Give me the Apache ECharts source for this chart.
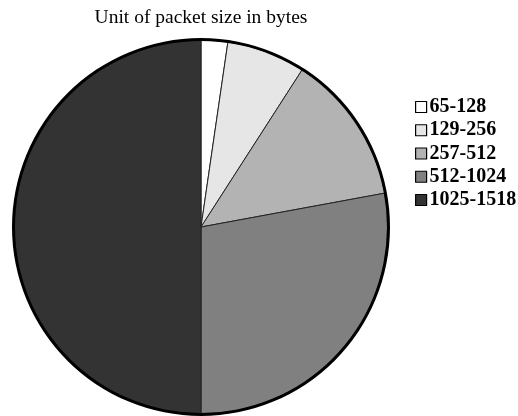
<!DOCTYPE html>
<html><head><meta charset="utf-8">
<script src="https://cdn.jsdelivr.net/npm/echarts@6/dist/echarts.min.js"></script>
<style>html,body{margin:0;padding:0;background:#fff}#c{width:518px;height:416px}</style>
</head><body><div id="c"></div>
<script>
var categories = ['65-128', '129-256', '257-512', '512-1024', '1025-1518'];
var values = [2.3, 6.8, 13.0, 27.9, 50.0];
var colors = ['#ffffff', '#e6e6e6', '#b3b3b3', '#808080', '#333333'];
var titleText = 'Unit of packet size in bytes';

var chart = echarts.init(document.getElementById('c'), null, {renderer: 'canvas'});
var data = categories.map(function (c, i) {
  return {name: c, value: values[i], itemStyle: {color: colors[i]}};
});
chart.setOption({
  animation: false,
  title: {
    text: titleText, left: 196, top: 3, textAlign: 'center',
    textStyle: {fontFamily: 'Liberation Serif', fontSize: 19.5, fontWeight: 'normal', color: '#000'}
  },
  legend: {
    orient: 'vertical', left: 415, top: 97, itemGap: 3.25, padding: 0,
    itemWidth: 11, itemHeight: 11, icon: 'rect',
    data: categories,
    itemStyle: {borderColor: '#000', borderWidth: 1.2},
    textStyle: {fontFamily: 'Liberation Serif', fontSize: 20, lineHeight: 20, fontWeight: 'bold', color: '#000', padding: [0, 0, 0, -2]}
  },
  series: [{
    type: 'pie', center: [201, 227], radius: [0, 187],
    startAngle: 90, clockwise: true, label: {show: false}, labelLine: {show: false},
    silent: true,
    itemStyle: {borderColor: '#222', borderWidth: 1},
    data: data
  }, {
    type: 'pie', center: [201, 227], radius: [186, 189],
    silent: true, label: {show: false}, labelLine: {show: false},
    legendHoverLink: false,
    itemStyle: {color: '#000', borderWidth: 0},
    data: [{name: '__ring', value: 1}]
  }]
});
</script></body></html>
